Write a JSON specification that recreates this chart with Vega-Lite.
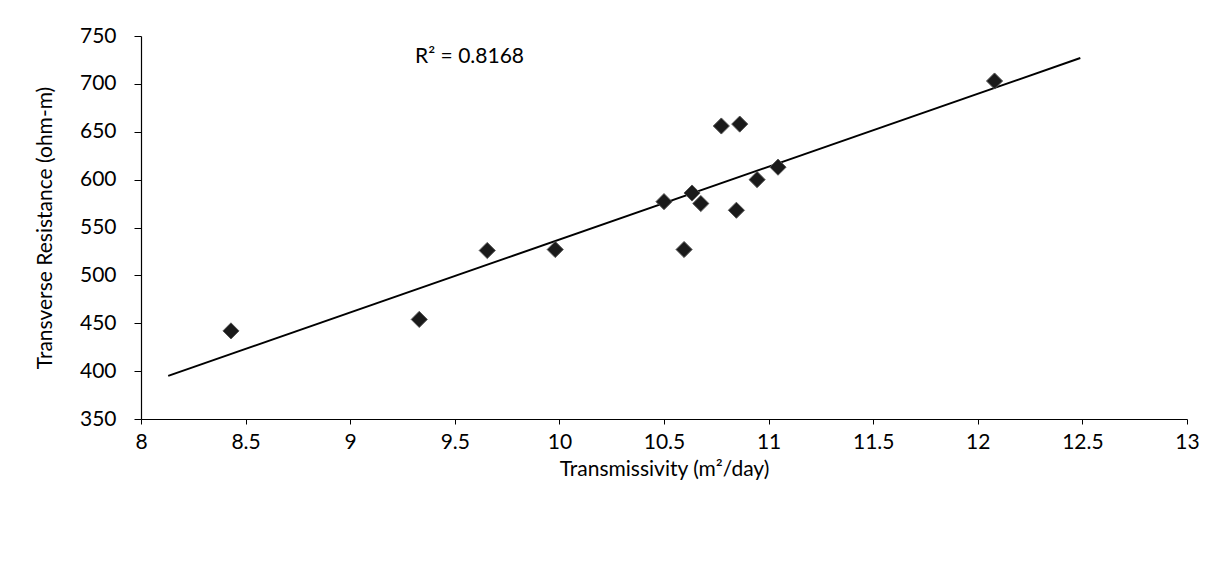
{
  "$schema": "https://vega.github.io/schema/vega-lite/v6.json",
  "autosize": "none",
  "width": 1046,
  "height": 383,
  "padding": {"left": 141, "top": 36, "right": 41, "bottom": 147},
  "background": "white",
  "config": {
    "view": {"stroke": null},
    "font": "Lato",
    "axis": {
      "domainColor": "#000000",
      "tickColor": "#000000",
      "labelColor": "#000000",
      "titleColor": "#000000",
      "labelFont": "Lato",
      "titleFont": "Lato",
      "labelFontSize": 21,
      "titleFontSize": 21,
      "titleFontWeight": "normal",
      "grid": false,
      "domainWidth": 1.2,
      "tickWidth": 1
    }
  },
  "datasets": {
    "points": [
      {"T": 8.43, "R": 442},
      {"T": 9.33, "R": 454},
      {"T": 9.655, "R": 526},
      {"T": 9.98, "R": 527},
      {"T": 10.5, "R": 577},
      {"T": 10.634, "R": 586},
      {"T": 10.676, "R": 575},
      {"T": 10.846, "R": 568},
      {"T": 10.596, "R": 527},
      {"T": 10.945, "R": 600},
      {"T": 11.045, "R": 613},
      {"T": 10.774, "R": 656},
      {"T": 10.862, "R": 658},
      {"T": 12.08, "R": 703}
    ],
    "trend": [
      {"T": 8.13, "R": 395},
      {"T": 12.49, "R": 727}
    ],
    "label": [
      {"T": 9.31, "R": 728, "text": "R² = 0.8168"}
    ]
  },
  "layer": [
    {
      "data": {"name": "trend"},
      "mark": {"type": "line", "color": "#000000", "strokeWidth": 2},
      "encoding": {
        "x": {
          "field": "T", "type": "quantitative",
          "scale": {"domain": [8, 13], "nice": false, "zero": false},
          "axis": {
            "title": "Transmissivity (m²/day)",
            "values": [8, 8.5, 9, 9.5, 10, 10.5, 11, 11.5, 12, 12.5, 13],
            "labelExpr": "datum.value",
            "tickSize": 5,
            "labelPadding": 7,
            "titlePadding": 6,
            "labelFlush": false
          }
        },
        "y": {
          "field": "R", "type": "quantitative",
          "scale": {"domain": [350, 750], "nice": false, "zero": false},
          "axis": {
            "title": "Transverse Resistance (ohm-m)",
            "values": [350, 400, 450, 500, 550, 600, 650, 700, 750],
            "tickSize": 7,
            "labelPadding": 18,
            "titlePadding": 24
          }
        }
      }
    },
    {
      "data": {"name": "points"},
      "mark": {"type": "point", "shape": "diamond", "filled": true, "size": 260, "color": "#1a1a1a", "opacity": 1, "stroke": "#555555", "strokeWidth": 1},
      "encoding": {
        "x": {"field": "T", "type": "quantitative"},
        "y": {"field": "R", "type": "quantitative"}
      }
    },
    {
      "data": {"name": "label"},
      "mark": {"type": "text", "align": "left", "baseline": "middle", "fontSize": 21, "font": "Lato", "color": "#000000"},
      "encoding": {
        "x": {"field": "T", "type": "quantitative"},
        "y": {"field": "R", "type": "quantitative"},
        "text": {"field": "text"}
      }
    }
  ]
}
